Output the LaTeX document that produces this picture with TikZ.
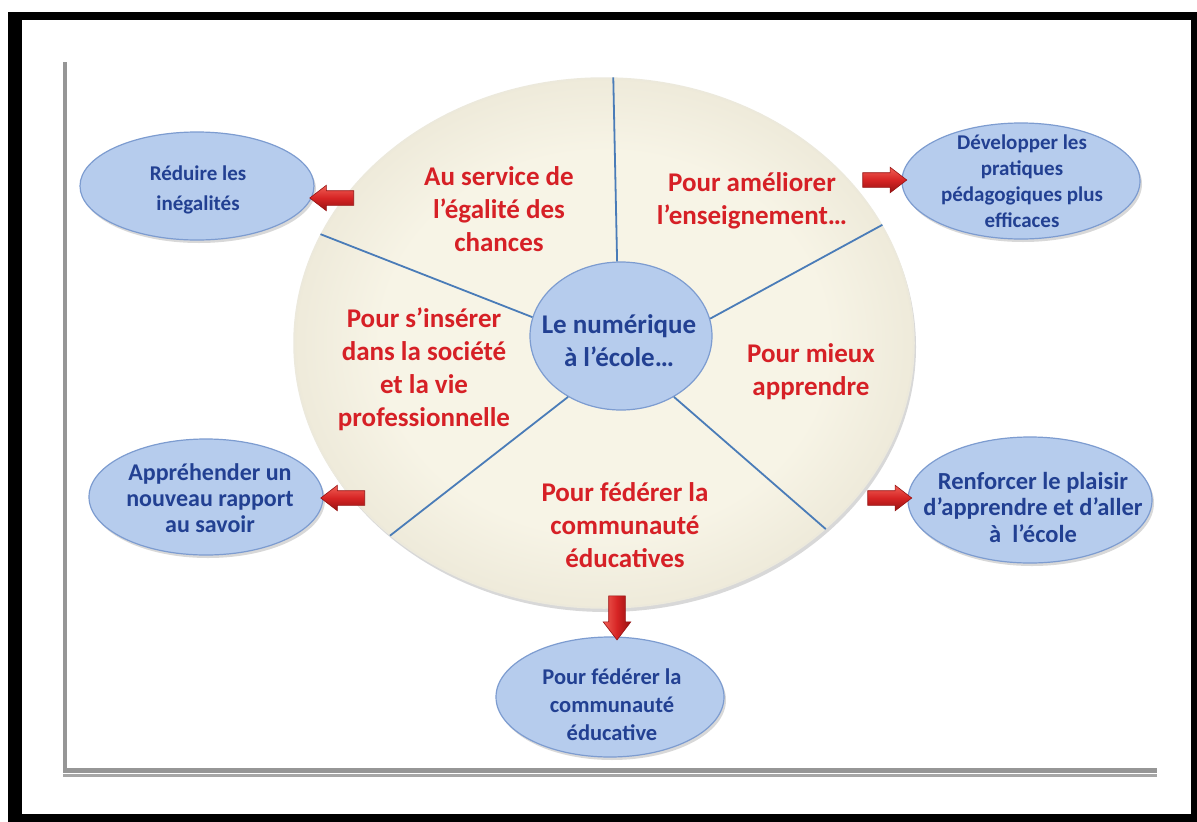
\documentclass[tikz,border=0pt]{standalone}
\usepackage{fontspec}
\setmainfont{Carlito}
\usetikzlibrary{shapes.geometric,shapes.arrows,shadows}
\definecolor{redtxt}{RGB}{214,32,38}
\definecolor{bluetxt}{RGB}{34,64,146}
\definecolor{bluefill}{RGB}{158,186,228}
\definecolor{bluefillin}{RGB}{182,204,237}
\definecolor{blueedge}{RGB}{125,156,208}
\definecolor{divider}{RGB}{74,124,184}
\definecolor{beigein}{RGB}{247,244,230}
\definecolor{beigemid}{RGB}{222,216,196}
\definecolor{beigeout}{RGB}{186,179,156}
\definecolor{beigerim}{RGB}{236,233,220}
\definecolor{arrowlight}{RGB}{240,95,85}
\definecolor{arrowmid}{RGB}{214,36,36}
\definecolor{arrowdark}{RGB}{150,18,18}
\definecolor{axisgray}{RGB}{150,150,150}
\pgfdeclareradialshading{beigeshade}{\pgfpoint{0bp}{0bp}}{color(0bp)=(beigein); color(18bp)=(beigein); color(38bp)=(beigemid); color(50bp)=(beigeout)}
\pgfdeclareradialshading{blueshade}{\pgfpoint{0bp}{0bp}}{color(0bp)=(bluefillin); color(28bp)=(bluefillin); color(50bp)=(bluefill)}
\tikzset{
  bubble/.style={ellipse, shading=blueshade, draw=blueedge, line width=1.2pt,
    drop shadow={shadow xshift=2pt, shadow yshift=-3pt, opacity=0.3}},
  bluetext/.style={text=bluetxt, align=center, font=\bfseries\fontsize{21}{26}\selectfont},
  redtext/.style={text=redtxt, align=center, font=\bfseries\fontsize{27}{33}\selectfont},
  coretext/.style={text=bluetxt, align=center, font=\bfseries\fontsize{27}{33}\selectfont},
  divline/.style={draw=divider, line width=1.8pt},
  blockarrow/.style={single arrow, minimum height=44pt,
    single arrow head extend=5.5pt, single arrow tip angle=75,
    draw=arrowdark, line width=0.6pt},
  harrow/.style={blockarrow, inner xsep=0pt, inner ysep=7pt,
    top color=arrowlight, bottom color=arrowdark, middle color=arrowmid},
  varrow/.style={blockarrow, inner xsep=8pt, inner ysep=0pt,
    left color=arrowlight, right color=arrowdark, middle color=arrowmid}
}
\begin{document}
\begin{tikzpicture}[x=1pt, y=-1pt]
\useasboundingbox (0,0) rectangle (1197,822);
\fill[white] (0,0) rectangle (1197,822);
\fill[black] (8,12) rectangle (1197,822);
\fill[white] (22,20) rectangle (1191,814);
% axes
\draw[axisgray, line width=4pt] (65,62) -- (65,769);
\draw[black!35, line width=3pt] (63,775) -- (1157,775);
\draw[axisgray, line width=5pt] (63,770) -- (1157,770);
% main ellipse
\node[ellipse, minimum width=620pt, minimum height=530pt, shading=beigeshade,
      draw=beigerim, line width=1.5pt,
      drop shadow={shadow xshift=2pt, shadow yshift=-4pt, opacity=0.3}] (main) at (604,343) {};
% center
\node[ellipse, minimum width=182pt, minimum height=148pt, shading=blueshade,
      draw=blueedge, line width=1.2pt] (core) at (621,336) {};
\node[coretext] (coret) at (619,341) {Le numérique\\à l’école…};
% dividers
\draw[divline] (main.88.3) -- (core.93);
\draw[divline] (main.159.4) -- (core.168.6);
\draw[divline] (main.222.1) -- (core.229.8);
\draw[divline] (main.23.2) -- (core.11.2);
\draw[divline] (main.320.4) -- (core.311.5);
% sector texts
\node[redtext] (t1) at (499,209) {Au service de\\l’égalité des\\chances};
\node[redtext] (t2) at (752,201) {Pour améliorer\\l’enseignement…};
\node[redtext] (t3) at (424,369) {Pour s’insérer\\dans la société\\et la vie\\professionnelle};
\node[redtext] (t4) at (811,372) {Pour mieux\\apprendre};
\node[redtext] (t5) at (625,525) {Pour fédérer la\\communauté\\éducatives};
% outer bubbles
\node[bubble, minimum width=234pt, minimum height=108pt] (o1) at (197,186) {};
\node[bluetext, font=\bfseries\fontsize{21}{30}\selectfont] (o1t) at (198,190) {Réduire les\\inégalités};
\node[bubble, minimum width=238pt, minimum height=116pt] (o2) at (1021,181) {};
\node[bluetext] (o2t) at (1022,181) {Développer les\\pratiques\\pédagogiques plus\\efficaces};
\node[bubble, minimum width=234pt, minimum height=116pt] (o3) at (206,497) {};
\node[bluetext, font=\bfseries\fontsize{24}{26}\selectfont] (o3t) at (210,498) {Appréhender un\\nouveau rapport\\au savoir};
\node[bubble, minimum width=244pt, minimum height=126pt] (o4) at (1030,500) {};
\node[bluetext, font=\bfseries\fontsize{24.5}{26.5}\selectfont] (o4t) at (1033,507) {Renforcer le plaisir\\d’apprendre et d’aller\\à\ \ l’école};
\node[bubble, minimum width=228pt, minimum height=120pt] (o5) at (610,697) {};
\node[bluetext, font=\bfseries\fontsize{22.5}{28}\selectfont] (o5t) at (612,705) {Pour fédérer la\\communauté\\éducative};
% arrows
\node[harrow, shape border rotate=180] (a1) at (336.5,198) {};
\node[harrow] (a2) at (880,180) {};
\node[harrow, shape border rotate=180] (a3) at (347.5,498) {};
\node[harrow] (a4) at (885,498) {};
\node[varrow, shape border rotate=270] (a5) at (617,612.5) {};
\end{tikzpicture}
\end{document}
